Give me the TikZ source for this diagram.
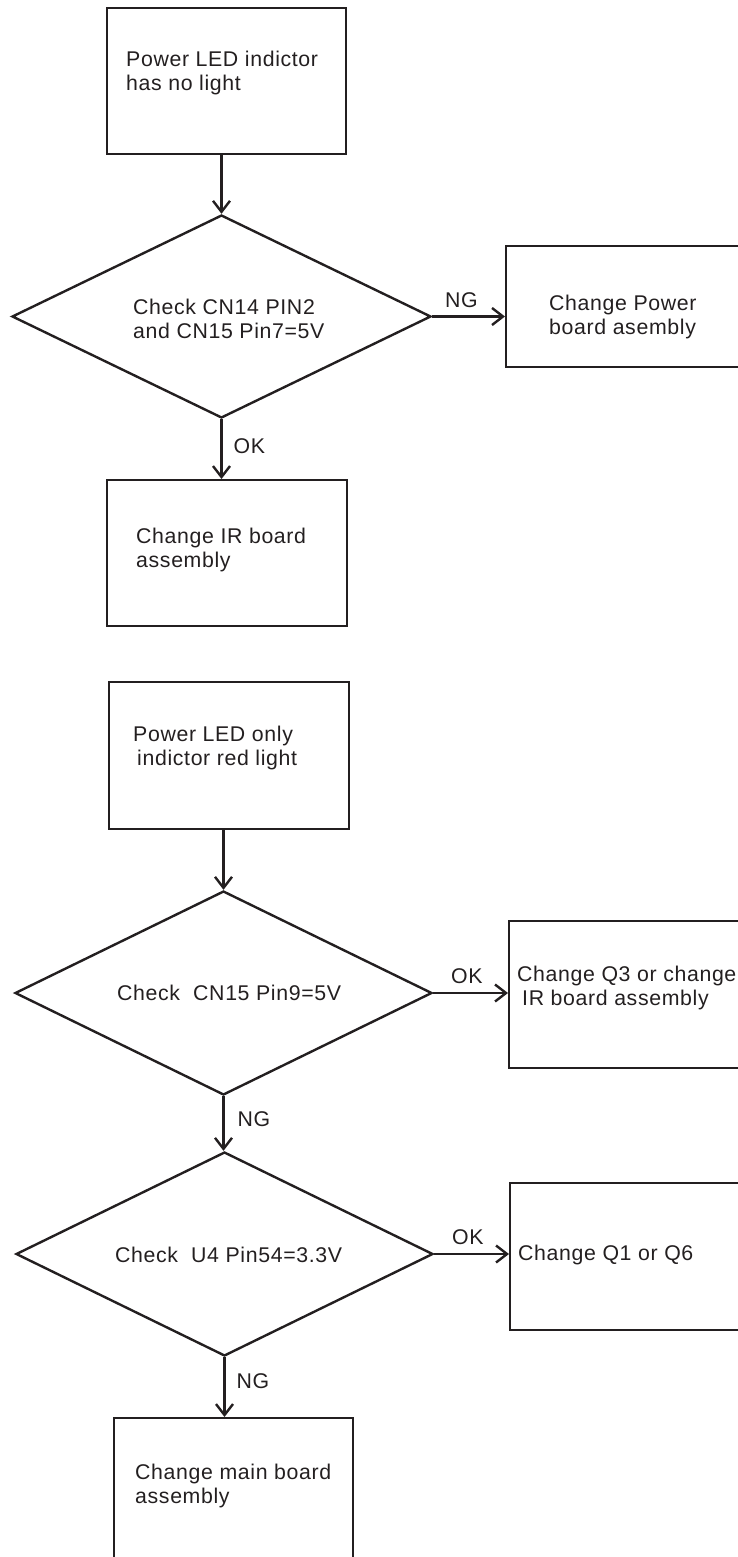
\documentclass[tikz,border=0pt]{standalone}
\usepackage{fontspec}
\setmainfont[LetterSpace=3]{Liberation Sans}
\usetikzlibrary{shapes.geometric,arrows.meta}
\definecolor{ink}{HTML}{231F20}
\tikzset{
  box/.style={draw=ink, line width=2.4pt, rectangle, inner sep=0pt, anchor=north west},
  dec/.style={draw=ink, line width=2.4pt, diamond, inner sep=0pt},
  txt/.style={text=ink, anchor=west, align=left, inner sep=0pt, font=\fontsize{21.3}{24}\selectfont},
  lbl/.style={text=ink, anchor=center, inner sep=0pt, font=\fontsize{21.3}{24}\selectfont},
  flow/.style={draw=ink, line width=2.4pt, -{Straight Barb[length=11pt,width=17pt,line width=2.4pt]}},
}
\begin{document}
\begin{tikzpicture}[x=1pt,y=-1pt]
\useasboundingbox (0,0) rectangle (738,1557);
% boxes
\node[box, minimum width=239pt, minimum height=146pt] (b1) at (106,7) {};
\node[box, minimum width=240pt, minimum height=146pt] (ir) at (106,479) {};
\node[box, minimum width=260pt, minimum height=121pt] (pw) at (505,245) {};
\node[box, minimum width=240pt, minimum height=147pt] (b2) at (108,681) {};
\node[box, minimum width=260pt, minimum height=147pt] (q3) at (508,920) {};
\node[box, minimum width=260pt, minimum height=147pt] (q1) at (509,1182) {};
\node[box, minimum width=239pt, minimum height=180pt] (mb) at (113,1417) {};
% diamonds
\node[dec, minimum width=419pt, minimum height=203pt] (d1) at (221.5,316.5) {};
\node[dec, minimum width=417pt, minimum height=204pt] (d2) at (223.5,993) {};
\node[dec, minimum width=417pt, minimum height=204pt] (d3) at (224.5,1254) {};
% texts
\node[txt] (t1) at (126,73) {Power LED indictor\\has no light};
\node[txt] (t2) at (133,319) {Check CN14 PIN2\\and CN15 Pin7=5V};
\node[txt] (t3) at (549,317) {Change Power\\board asembly};
\node[txt] (t4) at (136,550) {Change IR board\\assembly};
\node[txt] (t5) at (133,748) {Power LED only\\\hspace{4pt}indictor red light};
\node[txt] (t6) at (117,993) {Check\ \ CN15 Pin9=5V};
\node[txt] (t7) at (517,988) {Change Q3 or change\\\hspace{5pt}IR board assembly};
\node[txt] (t8) at (115,1255) {Check\ \ U4 Pin54=3.3V};
\node[txt] (t9) at (518,1255) {Change Q1 or Q6};
\node[txt] (t10) at (135,1486) {Change main board\\assembly};
% connectors
\draw[flow] (d1.north |- b1.south) -- (d1.north);
\draw[flow] (d1.east) -- (d1.east -| pw.west) node[lbl, pos=0.4, above=8pt] (l1) {NG};
\draw[flow] (d1.south) -- (d1.south |- ir.north) node[lbl, pos=0.45, right=11pt] (l2) {OK};
\draw[flow] (d2.north |- b2.south) -- (d2.north);
\draw[flow] (d2.east) -- (d2.east -| q3.west) node[lbl, pos=0.45, above=8pt] (l3) {OK};
\draw[flow] (d2.south) -- (d2.south |- d3.north) node[lbl, pos=0.42, right=13pt] (l4) {NG};
\draw[flow] (d3.east) -- (d3.east -| q1.west) node[lbl, pos=0.45, above=8pt] (l5) {OK};
\draw[flow] (d3.south) -- (d3.south |- mb.north) node[lbl, pos=0.4, right=11pt] (l6) {NG};
\end{tikzpicture}
\end{document}
